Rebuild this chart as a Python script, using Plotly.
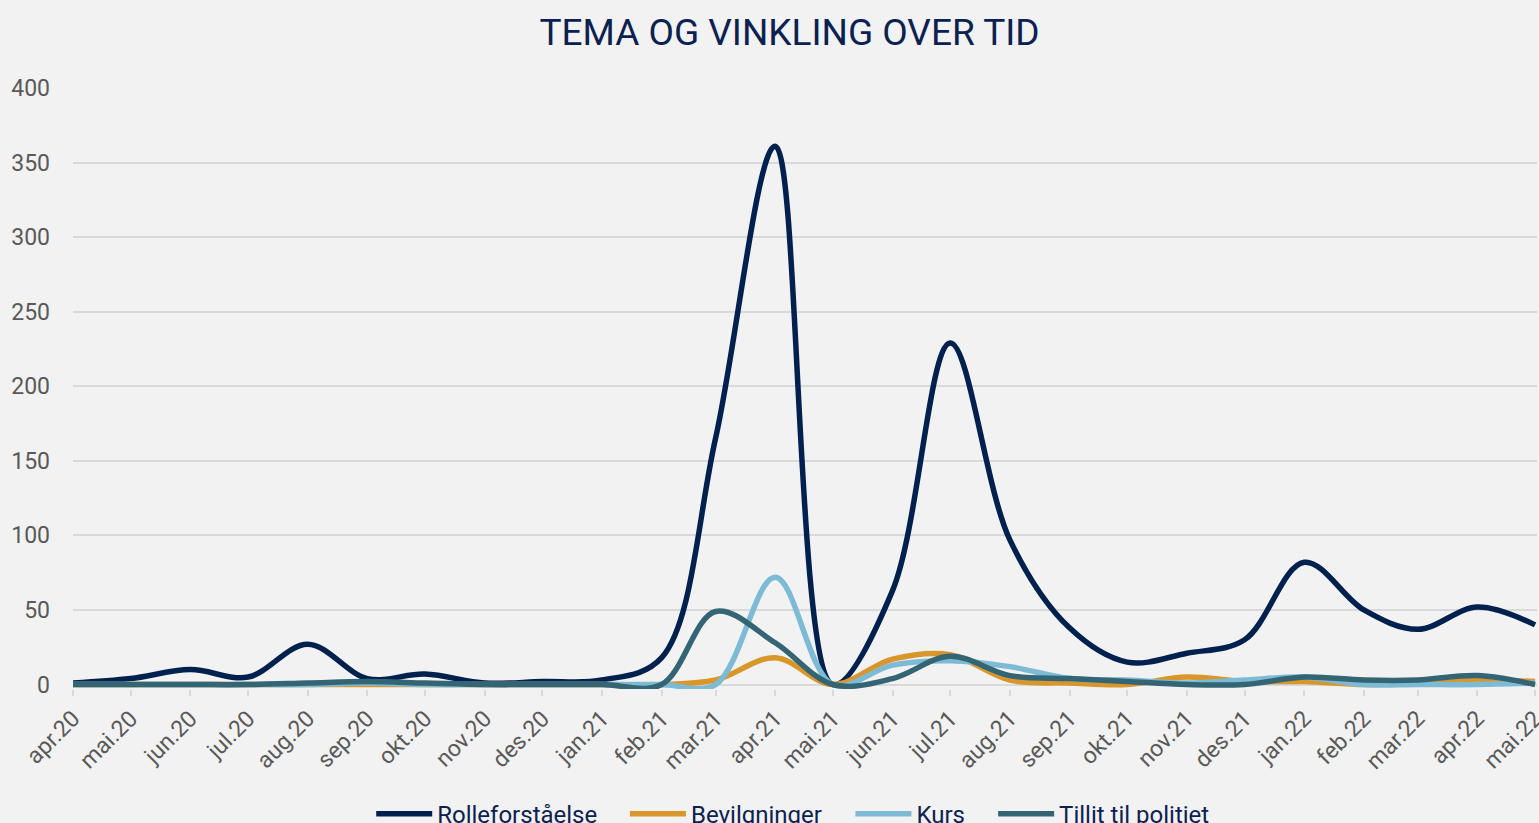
import plotly.graph_objects as go

# Month categories (date axis, Excel-style)
dates = ["2020-04-01", "2020-05-01", "2020-06-01", "2020-07-01", "2020-08-01", "2020-09-01",
         "2020-10-01", "2020-11-01", "2020-12-01", "2021-01-01", "2021-02-01", "2021-03-01",
         "2021-04-01", "2021-05-01", "2021-06-01", "2021-07-01", "2021-08-01", "2021-09-01",
         "2021-10-01", "2021-11-01", "2021-12-01", "2022-01-01", "2022-02-01", "2022-03-01",
         "2022-04-01", "2022-05-01"]
labels = ["apr.20", "mai.20", "jun.20", "jul.20", "aug.20", "sep.20", "okt.20", "nov.20",
          "des.20", "jan.21", "feb.21", "mar.21", "apr.21", "mai.21", "jun.21", "jul.21",
          "aug.21", "sep.21", "okt.21", "nov.21", "des.21", "jan.22", "feb.22", "mar.22",
          "apr.22", "mai.22"]

rolleforstaelse = [1, 4, 10, 5, 27, 4, 7, 1, 2, 3, 18, 165, 361, 0, 63, 229, 97, 38,
                   15, 21, 30, 82, 50, 37, 52, 40]
bevilgninger = [0, 0, 0, 0, 0, 0, 0, 0, 0, 0, 0, 3, 18, 0, 17, 20, 3, 1,
                0, 5, 2, 2, 0, 1, 3, 2]
kurs = [0, 0, 0, 0, 0, 1, 0, 0, 0, 0, 0, 0, 72, 0, 13, 16, 12, 4,
        3, 1, 3, 5, 0, 0, 0, 1]
tillit = [0, 0, 0, 0, 1, 2, 1, 0, 0, 0, 0, 49, 28, 0, 4, 19, 6, 4,
          2, 0, 0, 5, 3, 3, 6, 0]

series = [
    ("Rolleforståelse", rolleforstaelse, "#00204e", "legend"),
    ("Bevilgninger", bevilgninger, "#d8962b", "legend2"),
    ("Kurs", kurs, "#7dbbd5", "legend3"),
    ("Tillit til politiet", tillit, "#346575", "legend4"),
]

fig = go.Figure()
# Excel order: later series drawn on top
for name, vals, col, lg in series:
    fig.add_trace(go.Scatter(
        x=dates, y=vals, name=name, mode="lines", legend=lg,
        line=dict(color=col, width=5.5, shape="spline", smoothing=1.0),
        hoverinfo="x+y+name",
    ))

legend_x = {"legend": 0.2037, "legend2": 0.377, "legend3": 0.531, "legend4": 0.6285}
leg_common = dict(orientation="h", y=-0.171, yanchor="top", xanchor="left",
                  itemwidth=56, font=dict(size=24, color="#0b2150"),
                  bgcolor="rgba(0,0,0,0)")

fig.update_layout(
    width=1539, height=823,
    paper_bgcolor="#f2f2f2", plot_bgcolor="#f2f2f2",
    font=dict(family="Roboto, Arial, sans-serif", color="#595959"),
    margin=dict(l=73, r=2, t=88, b=134, autoexpand=False),
    title=dict(text="TEMA OG VINKLING OVER TID", x=0.513, xanchor="center",
               y=0.961, yanchor="middle",
               font=dict(size=37, color="#0b2150", family="Roboto, Arial, sans-serif")),
    showlegend=True,
    legend=dict(x=legend_x["legend"], **leg_common),
    legend2=dict(x=legend_x["legend2"], **leg_common),
    legend3=dict(x=legend_x["legend3"], **leg_common),
    legend4=dict(x=legend_x["legend4"], **leg_common),
)
fig.update_xaxes(
    type="date", range=["2020-04-01", "2022-05-02"],
    tickvals=dates, ticktext=labels, tickangle=-45, ticklabeloverflow="allow",
    tickfont=dict(size=23, color="#595959"),
    ticks="outside", ticklen=6, tickcolor="#d9d9d9", tickwidth=1.5,
    showgrid=False, zeroline=False, showline=False, automargin=False,
)
fig.update_yaxes(
    range=[-3, 400], tickvals=[0, 50, 100, 150, 200, 250, 300, 350, 400],
    tickfont=dict(size=23, color="#595959"),
    showgrid=True, gridcolor="#d9d9d9", gridwidth=1.5,
    zeroline=False, showline=False, ticks="", ticklabelstandoff=22, automargin=False,
)

fig.write_html("out.html", config={"displayModeBar": False},
               post_script="document.body.style.margin='0';document.body.style.background='#f2f2f2';")
